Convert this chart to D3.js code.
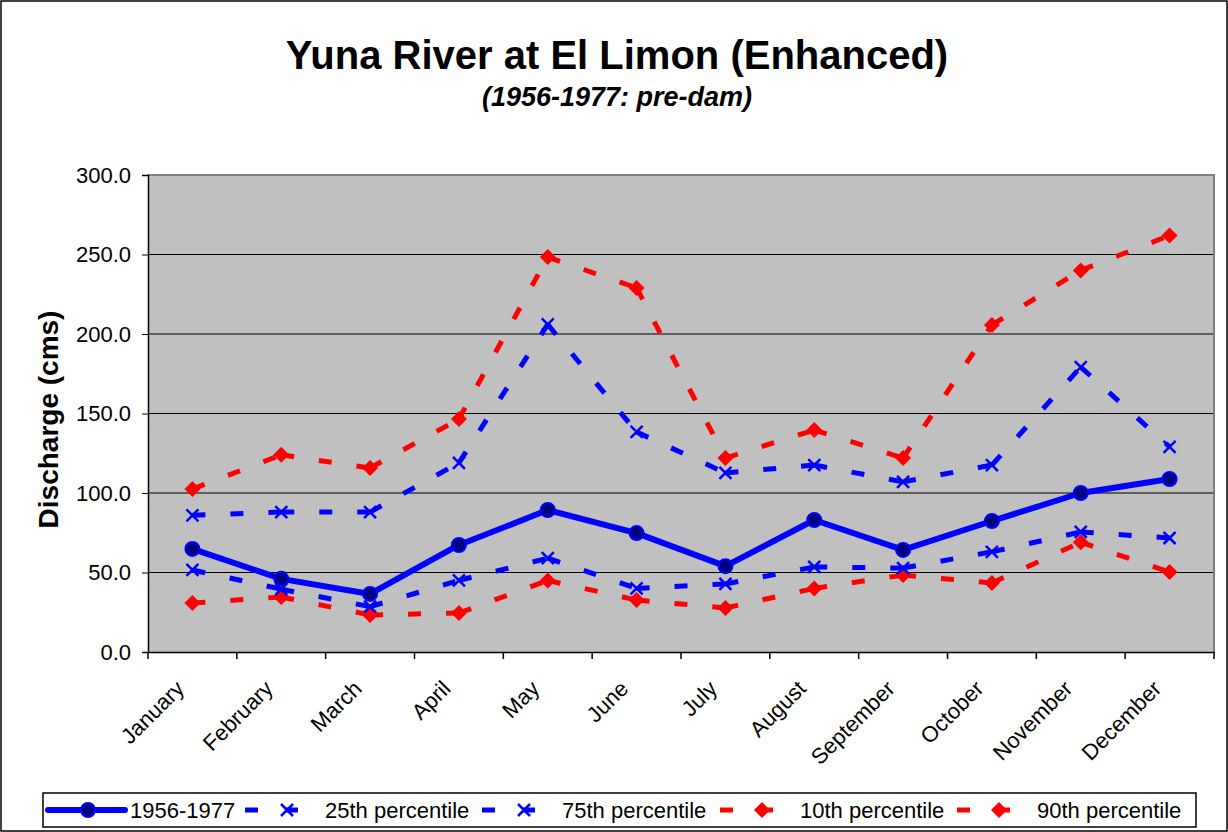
<!DOCTYPE html>
<html>
<head>
<meta charset="utf-8">
<script src="https://cdn.jsdelivr.net/npm/d3@7"></script>
<style>
  body { margin: 0; background: #fff; }
  text { font-family: "Liberation Sans", Arial, sans-serif; }
</style>
</head>
<body>
<div id="chart"></div>
<script>
const months = ["January", "February", "March", "April", "May", "June",
  "July", "August", "September", "October", "November", "December"];
const mean = [64.8, 46.0, 36.5, 67.3, 89.3, 74.8, 54.0, 83.0, 64.2, 82.4, 100.0, 108.8];
const p25 = [51.6, 39.5, 28.5, 45.0, 59.0, 40.0, 42.8, 53.5, 52.8, 63.0, 75.5, 71.7];
const p75 = [86.0, 88.0, 88.0, 119.0, 206.0, 138.4, 112.6, 117.6, 107.0, 117.6, 179.2, 129.0];
const p10 = [30.8, 34.6, 23.3, 24.5, 45.0, 32.7, 27.7, 40.0, 48.4, 43.4, 69.0, 50.3];
const p90 = [102.5, 124.0, 115.7, 146.5, 248.4, 229.0, 122.0, 139.6, 122.0, 205.7, 240.0, 262.0];
const yTicks = [0, 50, 100, 150, 200, 250, 300];

const W = 1228, H = 832;
const plot = { left: 148, right: 1214, top: 175, bottom: 652 };

const svg = d3.select('#chart').append('svg')
  .attr('width', W).attr('height', H);

svg.append('rect').attr('x', 1).attr('y', 1).attr('width', W - 2).attr('height', H - 2)
  .attr('fill', '#fff').attr('stroke', '#000').attr('stroke-width', 1.5);

// titles
svg.append('text').attr('x', 617).attr('y', 69).attr('text-anchor', 'middle')
  .style('font-size', '40px').style('font-weight', 'bold').text('Yuna River at El Limon (Enhanced)');
svg.append('text').attr('x', 617).attr('y', 106).attr('text-anchor', 'middle')
  .style('font-size', '27px').style('font-weight', 'bold').style('font-style', 'italic')
  .text('(1956-1977: pre-dam)');

const x = d3.scaleBand().domain(months).range([plot.left, plot.right]);
const y = d3.scaleLinear().domain([0, 300]).range([plot.bottom, plot.top]);
const cx = m => x(m) + x.bandwidth() / 2;

svg.append('rect').attr('x', plot.left).attr('y', plot.top)
  .attr('width', plot.right - plot.left).attr('height', plot.bottom - plot.top)
  .attr('fill', '#c0c0c0');

// grid
svg.append('g').attr('class', 'grid')
  .selectAll('line').data(yTicks.filter(t => t > 0 && t < 300)).enter().append('line')
  .attr('x1', plot.left).attr('x2', plot.right)
  .attr('y1', d => y(d)).attr('y2', d => y(d))
  .attr('stroke', '#000').attr('stroke-width', 1);

// plot border top/right
svg.append('path')
  .attr('d', `M${plot.left},${plot.top}H${plot.right}V${plot.bottom}`)
  .attr('fill', 'none').attr('stroke', '#808080').attr('stroke-width', 2);

// y axis
const yAxis = svg.append('g').attr('transform', `translate(${plot.left},0)`)
  .call(d3.axisLeft(y).tickValues(yTicks).tickFormat(d3.format('.1f')).tickSize(6).tickPadding(11));
yAxis.select('.domain').attr('stroke', '#000').attr('stroke-width', 1.5);
yAxis.selectAll('text').style('font-size', '22px').style('font-family', '"Liberation Sans", Arial, sans-serif').attr('fill', '#000');

// x axis
const xAxis = svg.append('g').attr('transform', `translate(0,${plot.bottom})`)
  .call(d3.axisBottom(x).tickSize(0).tickFormat(''));
xAxis.select('.domain').attr('stroke', '#000').attr('stroke-width', 1.5);
svg.append('g').selectAll('line').data(d3.range(13)).enter().append('line')
  .attr('x1', i => plot.left + i * x.bandwidth()).attr('x2', i => plot.left + i * x.bandwidth())
  .attr('y1', plot.bottom).attr('y2', plot.bottom + 7)
  .attr('stroke', '#000').attr('stroke-width', 1.5);
svg.append('g').selectAll('text').data(months).enter().append('text')
  .attr('transform', d => `translate(${cx(d) - 7},${plot.bottom + 38}) rotate(-45)`)
  .attr('text-anchor', 'end')
  .style('font-size', '22px')
  .text(d => d);

// y title
svg.append('text').attr('transform', `translate(58,${(plot.top + plot.bottom) / 2 + 6}) rotate(-90)`)
  .attr('text-anchor', 'middle').style('font-size', '28px').style('font-weight', 'bold')
  .text('Discharge (cms)');

// markers
function drawMarker(g, type, px, py) {
  if (type === 'circle') {
    g.append('circle').attr('cx', px).attr('cy', py).attr('r', 7)
      .attr('fill', '#000080').attr('stroke', '#0000ff').attr('stroke-width', 2);
  } else if (type === 'x') {
    const s = 6;
    g.append('path').attr('d', `M${px - s},${py - s}L${px + s},${py + s}M${px - s},${py + s}L${px + s},${py - s}`)
      .attr('stroke', '#0000ff').attr('stroke-width', 2.5).attr('fill', 'none');
  } else if (type === 'diamond') {
    const s = 8;
    g.append('path').attr('d', `M${px},${py - s}L${px + s},${py}L${px},${py + s}L${px - s},${py}Z`)
      .attr('fill', '#ff0000');
  }
}

const series = [
  { name: '1956-1977', values: mean, color: '#0000ff', dash: null, width: 6, marker: 'circle' },
  { name: '25th percentile', values: p25, color: '#0000ff', dash: '13,25', width: 5, marker: 'x' },
  { name: '75th percentile', values: p75, color: '#0000ff', dash: '13,25', width: 5, marker: 'x' },
  { name: '10th percentile', values: p10, color: '#ff0000', dash: '13,25', width: 5, marker: 'diamond' },
  { name: '90th percentile', values: p90, color: '#ff0000', dash: '13,25', width: 5, marker: 'diamond' }
];

const drawOrder = [4, 3, 2, 1, 0];
drawOrder.forEach(si => {
  const s = series[si];
  const g = svg.append('g').attr('class', 'series');
  const pts = months.map((m, i) => [cx(m), y(s.values[i])]);
  if (s.dash) {
    // dash pattern restarts on every segment
    d3.pairs(pts).forEach(([a, b]) => {
      g.append('line').attr('x1', a[0]).attr('y1', a[1]).attr('x2', b[0]).attr('y2', b[1])
        .attr('stroke', s.color).attr('stroke-width', s.width)
        .attr('stroke-dasharray', s.dash);
    });
  } else {
    g.append('path').attr('d', d3.line()(pts)).attr('fill', 'none')
      .attr('stroke', s.color).attr('stroke-width', s.width).attr('stroke-linejoin', 'round');
  }
  pts.forEach(p => drawMarker(g, s.marker, p[0], p[1]));
});

// legend
const legend = svg.append('g');
legend.append('rect').attr('x', 43).attr('y', 793).attr('width', 1153).attr('height', 34)
  .attr('fill', '#fff').attr('stroke', '#000').attr('stroke-width', 1.5);
const legendStart = [48, 245, 482, 720, 957];
series.forEach((s, i) => {
  const x0 = legendStart[i];
  const ly = 810;
  if (s.dash) {
    legend.append('line').attr('x1', x0).attr('x2', x0 + 53).attr('y1', ly).attr('y2', ly)
      .attr('stroke', s.color).attr('stroke-width', s.width).attr('stroke-dasharray', '13,27');
    drawMarker(legend, s.marker, x0 + 42, ly);
    legend.append('text').attr('x', x0 + 80).attr('y', ly + 8).style('font-size', '22px').text(s.name);
  } else {
    legend.append('line').attr('x1', x0).attr('x2', x0 + 77).attr('y1', ly).attr('y2', ly)
      .attr('stroke', s.color).attr('stroke-width', s.width).attr('stroke-linecap', 'round');
    drawMarker(legend, s.marker, x0 + 40, ly);
    legend.append('text').attr('x', x0 + 82).attr('y', ly + 8).style('font-size', '22px').text(s.name);
  }
});
</script>
</body>
</html>
